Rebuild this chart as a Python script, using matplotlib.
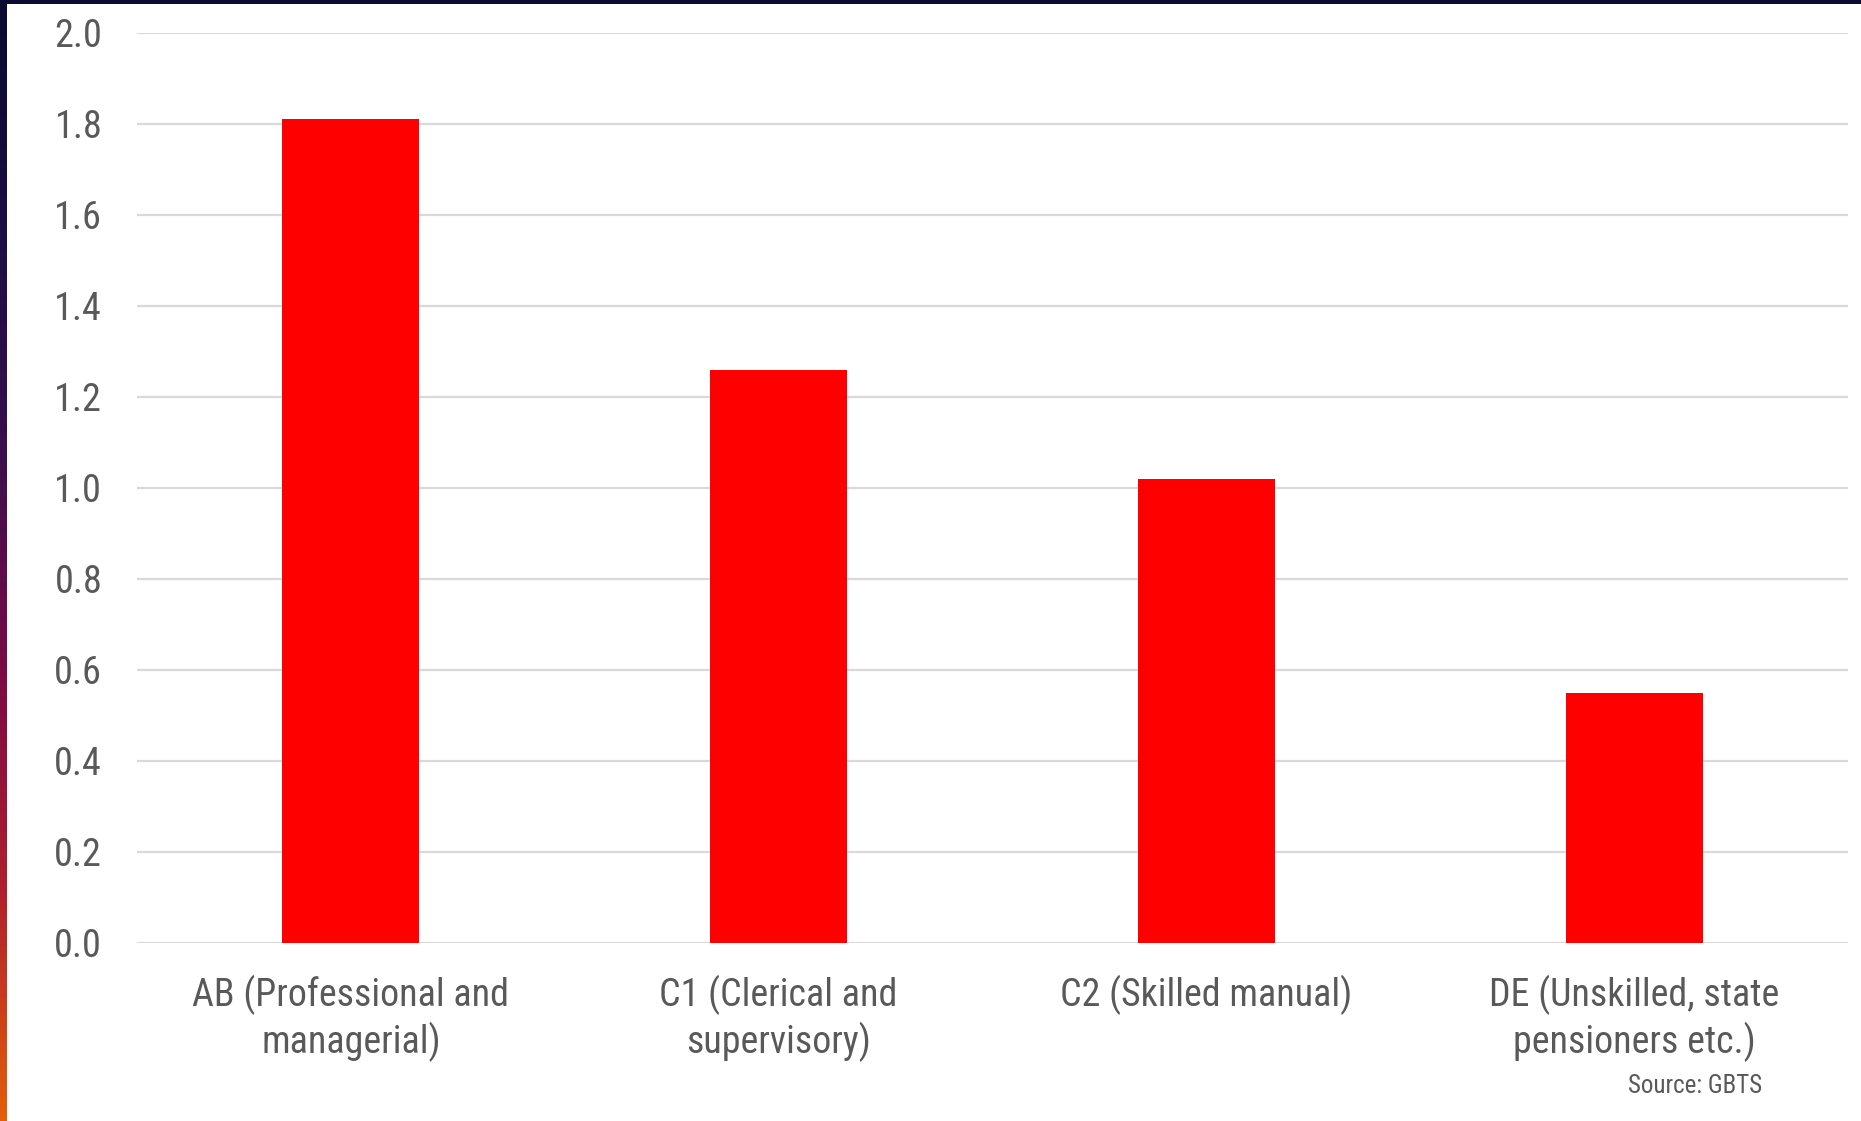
import numpy as np
import matplotlib
matplotlib.use("Agg")
import matplotlib.pyplot as plt
from matplotlib.colors import LinearSegmentedColormap

# Social grade groups and their values
categories = ["AB (Professional and\nmanagerial)",
              "C1 (Clerical and\nsupervisory)",
              "C2 (Skilled manual)",
              "DE (Unskilled, state\npensioners etc.)"]
values = [1.81, 1.26, 1.02, 0.55]
yticks = [0.0, 0.2, 0.4, 0.6, 0.8, 1.0, 1.2, 1.4, 1.6, 1.8, 2.0]
source_note = "Source: GBTS"

plt.rcParams['font.family'] = ['Roboto Condensed', 'Liberation Sans Narrow', 'Roboto', 'DejaVu Sans']
text_color = "#595959"

fig = plt.figure(figsize=(18.61, 11.21), dpi=100)
fig.patch.set_facecolor("white")

ax = fig.add_axes([0.0736, 0.1588, 0.9194, 0.8118])
x = np.arange(len(categories))
ax.bar(x, values, width=0.32, color="#ff0000", zorder=3)

ax.set_xlim(-0.5, len(categories) - 0.5)
ax.set_ylim(0, 2.0)
ax.set_yticks(yticks)
ax.set_yticklabels([f"{v:.1f}" for v in yticks])
ax.set_xticks(x)
ax.set_xticklabels(categories, linespacing=1.22, fontsize=27.4)
ax.yaxis.grid(True, color="#d9d9d9", linewidth=1.6, zorder=0)
ax.set_axisbelow(True)
for s in ax.spines.values():
    s.set_visible(False)
ax.tick_params(axis="both", length=0, colors=text_color)
ax.tick_params(axis="y", pad=25, labelsize=27.5)
ax.tick_params(axis="x", pad=23)

fig.text(0.911, 0.0204, source_note, fontsize=18, color=text_color, ha="center", va="bottom")

# dark frame: top band and gradient strip on the left
top = fig.add_axes([0, 1 - 4 / 1121, 1, 4 / 1121])
top.set_axis_off()
top.add_patch(plt.Rectangle((0, 0), 1, 1, color="#0b0a30", transform=top.transAxes))

strip = fig.add_axes([0, 0, 7 / 1861, 1])
strip_cmap = LinearSegmentedColormap.from_list(
    "edge", ["#0b0a30", "#1a0d45", "#3a0f4e", "#7a0a46", "#b0202c", "#e0600a"])
strip.imshow(np.linspace(0, 1, 256).reshape(-1, 1), aspect="auto", cmap=strip_cmap)
strip.set_axis_off()

fig.savefig("out.png", dpi=100)
